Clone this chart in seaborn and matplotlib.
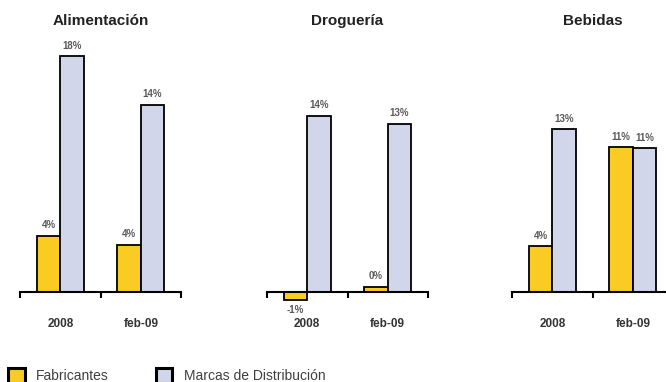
import matplotlib
matplotlib.use("Agg")
import matplotlib.pyplot as plt
from matplotlib.patches import Patch
import seaborn as sns
import pandas as pd

# datos (%)
periodos = ["2008", "feb-09"]
secciones = ["Alimentación", "Droguería", "Bebidas"]
fabricantes_alim = [4.3, 3.6]
marcas_alim = [18.0, 14.3]
fabricantes_drog = [-0.6, 0.4]
marcas_drog = [14.0, 13.4]
fabricantes_beb = [3.6, 11.4]
marcas_beb = [12.8, 11.3]
series = ["Fabricantes", "Marcas de Distribución"]

amarillo = "#FACB22"
lavanda = "#D1D6EA"

sns.set_theme(style="white")
plt.rcParams['font.family'] = ['Liberation Sans', 'DejaVu Sans']

W, H = 666, 382
fig = plt.figure(figsize=(W / 100, H / 100), dpi=100)

# geometria en pixeles de cada panel
x_izq = [20, 267, 512]
eje_y = 292
tope_y = 40
px_por_pct = [13.1, 12.57, 12.7]

datos = [(fabricantes_alim, marcas_alim),
         (fabricantes_drog, marcas_drog),
         (fabricantes_beb, marcas_beb)]

for i, seccion in enumerate(secciones):
    fab, mar = datos[i]
    df = pd.DataFrame({
        "periodo": periodos * 2,
        "valor": fab + mar,
        "serie": [series[0]] * 2 + [series[1]] * 2,
    })
    ax = fig.add_axes([x_izq[i] / W, (H - eje_y) / H, 161 / W, (eje_y - tope_y) / H])
    sns.barplot(data=df, x="periodo", y="valor", hue="serie", hue_order=series,
                palette=[amarillo, lavanda], width=0.58, saturation=1,
                edgecolor="black", linewidth=1.3, legend=False, ax=ax)
    ax.set_xlim(-0.5, 1.5)
    ax.set_ylim(0, (eje_y - tope_y) / px_por_pct[i])
    for p in ax.patches:
        p.set_clip_on(False)
    for c in ax.containers:
        anns = ax.bar_label(c, fmt='{:.0f}%', padding=4, fontsize=7,
                            fontweight='bold', color='#5a5a5a')
        for a in anns:
            a.set_annotation_clip(False)
            a.set_clip_on(False)

    for s in ["top", "right", "left"]:
        ax.spines[s].set_visible(False)
    ax.spines["bottom"].set_color("black")
    ax.spines["bottom"].set_linewidth(1.5)
    ax.set_yticks([])
    ax.set_xlabel("")
    ax.set_ylabel("")
    ax.set_xticks([-0.5, 0.5, 1.5], minor=True)
    ax.tick_params(axis="x", which="major", length=0, pad=19,
                   labelsize=8.5, labelcolor="#333333")
    ax.tick_params(axis="x", which="minor", bottom=True, length=4.5, width=1.5,
                   color="black", direction="out")
    for t in ax.get_xticklabels():
        t.set_fontweight("bold")
    ax.patch.set_alpha(0)

    fig.text((x_izq[i] + 80.5) / W, (H - 21) / H, seccion, ha="center", va="center",
             fontsize=11, fontweight="bold", color="#222222")

handles = [Patch(facecolor=amarillo, edgecolor="black", linewidth=2.2),
           Patch(facecolor=lavanda, edgecolor="black", linewidth=2.2)]
fig.legend(handles, series, loc="lower left", bbox_to_anchor=(8 / W, -0.003),
           ncol=2, frameon=False, fontsize=10, borderpad=0, borderaxespad=0,
           handlelength=1.2, handleheight=1.2, handletextpad=0.8,
           columnspacing=3.4, labelcolor="#404040")

fig.savefig("out.png", dpi=100)
